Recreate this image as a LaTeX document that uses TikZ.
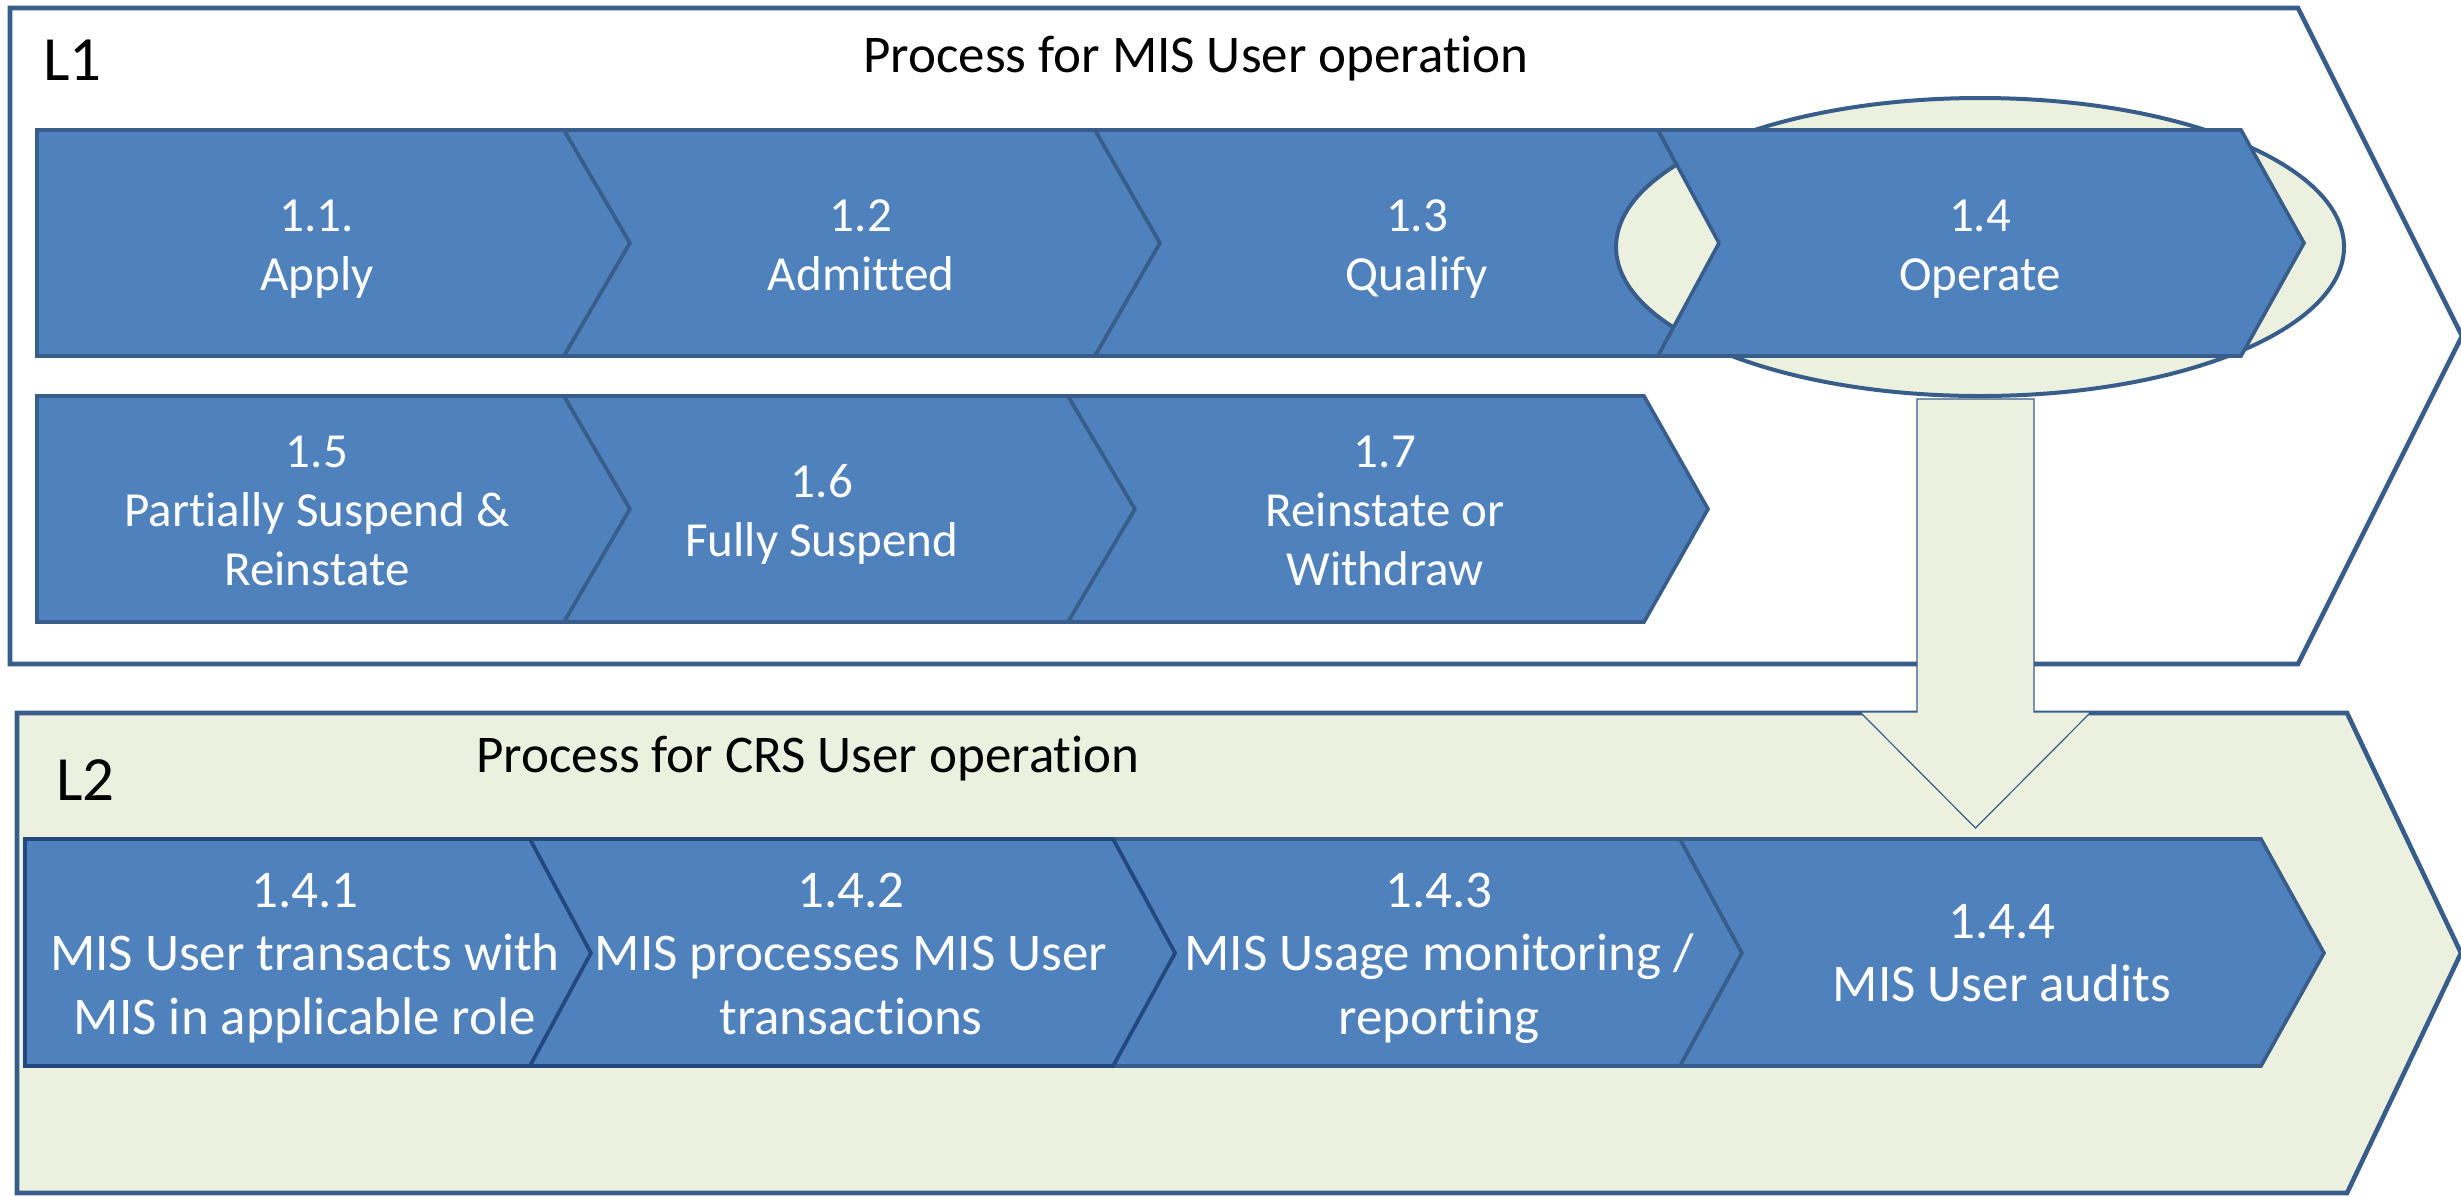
\documentclass[tikz,border=0pt]{standalone}
\usepackage{fontspec}
\setmainfont{Carlito}[Ligatures={CommonOff,ContextualOff,RareOff}]
\usetikzlibrary{shapes.geometric,calc}
\definecolor{chevfill}{HTML}{4F81BD}
\definecolor{chevline}{HTML}{385D8A}
\definecolor{chevdark}{HTML}{22487E}
\definecolor{pale}{HTML}{EBF1DE}
\newcommand\mylines[1]{\begin{tabular}[t]{@{}c@{}}#1\end{tabular}}
\begin{document}
\begin{tikzpicture}[x=0.5pt,y=-0.5pt,
 chev/.style={fill=chevfill,draw=chevline,line width=1.8pt,line join=miter},
 chevdk/.style={chev,draw=chevdark},
 frame/.style={draw=chevline,line width=2.3pt,line join=miter},
 ctext/.style={anchor=base,inner sep=0pt,text=white,font=\fontsize{24.5pt}{29.5pt}\selectfont},
 ctextb/.style={anchor=base,inner sep=0pt,text=white,font=\fontsize{26.5pt}{31.75pt}\selectfont},
 titletext/.style={anchor=base,inner sep=0pt,font=\fontsize{26.5pt}{32pt}\selectfont},
 lvl/.style={anchor=base west,inner sep=0pt,font=\fontsize{31.5pt}{38pt}\selectfont},
 blockarrow/.style={fill=pale,draw=chevline,line width=0.6pt,line join=miter}
]
\useasboundingbox (0,0) rectangle (2461,1196);
\clip (0,0) rectangle (2461,1196);
\fill[white] (0,0) rectangle (2461,1196);

% level frames
\draw[frame,fill=white] (10,8) -- (2298,8) -- (2462,336) -- (2298,664) -- (10,664) -- cycle;
\draw[frame,fill=pale] (17,713) -- (2347,713) -- (2461,953) -- (2347,1193) -- (17,1193) -- cycle;

% row 1 (1.1 - 1.3)
\path[chev] (37,130) -- (564,130) -- (630,243) -- (564,356) -- (37,356) -- cycle;
\path[chev] (564,130) -- (1095,130) -- (1160,243) -- (1095,356) -- (564,356) -- (630,243) -- cycle;
\path[chev] (1095,130) -- (1658,130) -- (1719,243) -- (1658,356) -- (1095,356) -- (1160,243) -- cycle;

% highlight ellipse around 1.4
\node[ellipse,draw=chevline,fill=pale,line width=2pt,minimum width=364pt,minimum height=149pt,inner sep=0pt] (opring) at (1980,247) {};

% 1.4
\path[chev] (1658,130) -- (2241,130) -- (2304,243) -- (2241,356) -- (1658,356) -- (1719,243) -- cycle;

% row 2
\path[chev] (37,396) -- (564,396) -- (630,509) -- (564,622) -- (37,622) -- cycle;
\path[chev] (564,396) -- (1068,396) -- (1135,509) -- (1068,622) -- (564,622) -- (630,509) -- cycle;
\path[chev] (1068,396) -- (1644,396) -- (1708,509) -- (1644,622) -- (1068,622) -- (1135,509) -- cycle;

% L2 row
\path[chev] (1113,839) -- (1680,839) -- (1742,953) -- (1680,1066) -- (1113,1066) -- (1175,953) -- cycle;
\path[chev] (1680,839) -- (2261,839) -- (2324,953) -- (2261,1066) -- (1680,1066) -- (1742,953) -- cycle;
\path[chevdk] (25,839) -- (530,839) -- (591,953) -- (530,1066) -- (25,1066) -- cycle;
\path[chevdk] (530,839) -- (1113,839) -- (1175,953) -- (1113,1066) -- (530,1066) -- (591,953) -- cycle;

% block arrow from 1.4 down to level 2
\coordinate (arrstart) at (1975.5,399);
\coordinate (arrtip) at (1975.5,828);
\draw[blockarrow] ($(arrstart)+(-58.5,0)$) -- ($(arrstart)+(58.5,0)$) -- ($(arrtip)+(58.5,-116)$) -- ($(arrtip)+(115.5,-116)$) -- (arrtip) -- ($(arrtip)+(-115.5,-116)$) -- ($(arrtip)+(-58.5,-116)$) -- cycle;

% labels
\node[lvl] (l1) at (43,80) {L1};
\node[titletext] (title1) at (1196,72) {Process for MIS User operation};
\node[lvl] (l2) at (56,800) {L2};
\node[titletext] (title2) at (808,772) {Process for CRS User operation};

% chevron texts
\node[ctext] (c11) at (317,231) {\mylines{1.1.\\Apply}};
\node[ctext] (c12) at (861,231) {\mylines{1.2\\Admitted}};
\node[ctext] (c13) at (1417,231) {\mylines{1.3\\Qualify}};
\node[ctext] (c14) at (1980,231) {\mylines{1.4\\Operate}};
\node[ctext] (c15) at (317,467) {\mylines{1.5\\Partially Suspend \&\\Reinstate}};
\node[ctext] (c16) at (822,497) {\mylines{1.6\\Fully Suspend}};
\node[ctext] (c17) at (1385,467) {\mylines{1.7\\Reinstate or\\Withdraw}};
\node[ctextb] (c141) at (305,907) {\mylines{1.4.1\\MIS User transacts with\\MIS in applicable role}};
\node[ctextb] (c142) at (851,907) {\mylines{1.4.2\\MIS processes MIS User\\transactions}};
\node[ctextb] (c143) at (1439,907) {\mylines{1.4.3\\MIS Usage monitoring /\\reporting}};
\node[ctextb] (c144) at (2002,938) {\mylines{1.4.4\\MIS User audits}};
\end{tikzpicture}
\end{document}
